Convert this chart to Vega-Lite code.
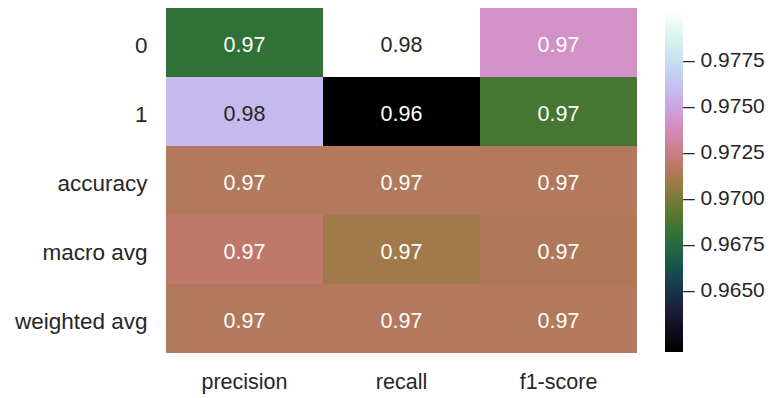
{
  "$schema": "https://vega.github.io/schema/vega-lite/v6.json",
  "width": 471,
  "height": 345,
  "autosize": {"type": "none"},
  "padding": {"left": 166, "top": 8, "right": 137, "bottom": 45},
  "background": "white",
  "config": {
    "view": {"stroke": null},
    "font": "Liberation Sans"
  },
  "data": {
    "values": [
      {"row": "0", "metric": "precision", "value": 0.9680},
      {"row": "0", "metric": "recall", "value": 0.9802},
      {"row": "0", "metric": "f1-score", "value": 0.9741},
      {"row": "1", "metric": "precision", "value": 0.9758},
      {"row": "1", "metric": "recall", "value": 0.9617},
      {"row": "1", "metric": "f1-score", "value": 0.9687},
      {"row": "accuracy", "metric": "precision", "value": 0.9715},
      {"row": "accuracy", "metric": "recall", "value": 0.9715},
      {"row": "accuracy", "metric": "f1-score", "value": 0.9715},
      {"row": "macro avg", "metric": "precision", "value": 0.9719},
      {"row": "macro avg", "metric": "recall", "value": 0.9710},
      {"row": "macro avg", "metric": "f1-score", "value": 0.9714},
      {"row": "weighted avg", "metric": "precision", "value": 0.9715},
      {"row": "weighted avg", "metric": "recall", "value": 0.9715},
      {"row": "weighted avg", "metric": "f1-score", "value": 0.9715}
    ]
  },
  "encoding": {
    "x": {
      "field": "metric",
      "type": "nominal",
      "sort": ["precision", "recall", "f1-score"],
      "scale": {"paddingInner": 0, "paddingOuter": 0},
      "axis": {
        "title": null,
        "orient": "bottom",
        "labelAngle": 0,
        "ticks": false,
        "domain": false,
        "labelPadding": 18,
        "labelFontSize": 21.5,
        "labelColor": "#262626"
      }
    },
    "y": {
      "field": "row",
      "type": "nominal",
      "sort": ["0", "1", "accuracy", "macro avg", "weighted avg"],
      "scale": {"paddingInner": 0, "paddingOuter": 0},
      "axis": {
        "title": null,
        "ticks": false,
        "domain": false,
        "labelPadding": 19,
        "labelOffset": 3,
        "labelFontSize": 22.5,
        "labelColor": "#262626"
      }
    }
  },
  "layer": [
    {
      "mark": {"type": "rect"},
      "encoding": {
        "color": {
          "field": "value",
          "type": "quantitative",
          "scale": {
            "type": "linear",
            "interpolate": "rgb",
            "domain": [0.9617, 0.962625, 0.96355, 0.964475, 0.9654, 0.966325, 0.96725, 0.968175, 0.9691, 0.970025, 0.97095, 0.971875, 0.9728, 0.973725, 0.97465, 0.975575, 0.9765, 0.977425, 0.97835, 0.979275, 0.9802],
            "range": ["#000000", "#120817", "#1a1530", "#1a2744", "#163d4e", "#16534c", "#1f6642", "#347335", "#54792f", "#7a7a35", "#a07949", "#be796a", "#d07e93", "#d48aba", "#cf9cda", "#c7b3ed", "#c1caf3", "#c5def2", "#d2eeef", "#e8f8f2", "#ffffff"]
          },
          "legend": {
            "title": null,
            "orient": "none",
            "legendX": 499,
            "legendY": 3,
            "direction": "vertical",
            "gradientLength": 341,
            "gradientThickness": 18,
            "gradientStrokeWidth": 0,
            "values": [0.965, 0.9675, 0.97, 0.9725, 0.975, 0.9775],
            "labelExpr": "'\u2013 ' + format(datum.value, '.4f')",
            "labelOffset": 0,
            "labelFontSize": 21,
            "labelColor": "#262626",
            "labelOverlap": false
          }
        }
      }
    },
    {
      "mark": {"type": "text", "fontSize": 21.5, "dy": 3},
      "encoding": {
        "text": {"field": "value", "type": "quantitative", "format": ".2f"},
        "color": {
          "condition": {"test": "datum.value > 0.975", "value": "#262626"},
          "value": "white"
        }
      }
    }
  ]
}
